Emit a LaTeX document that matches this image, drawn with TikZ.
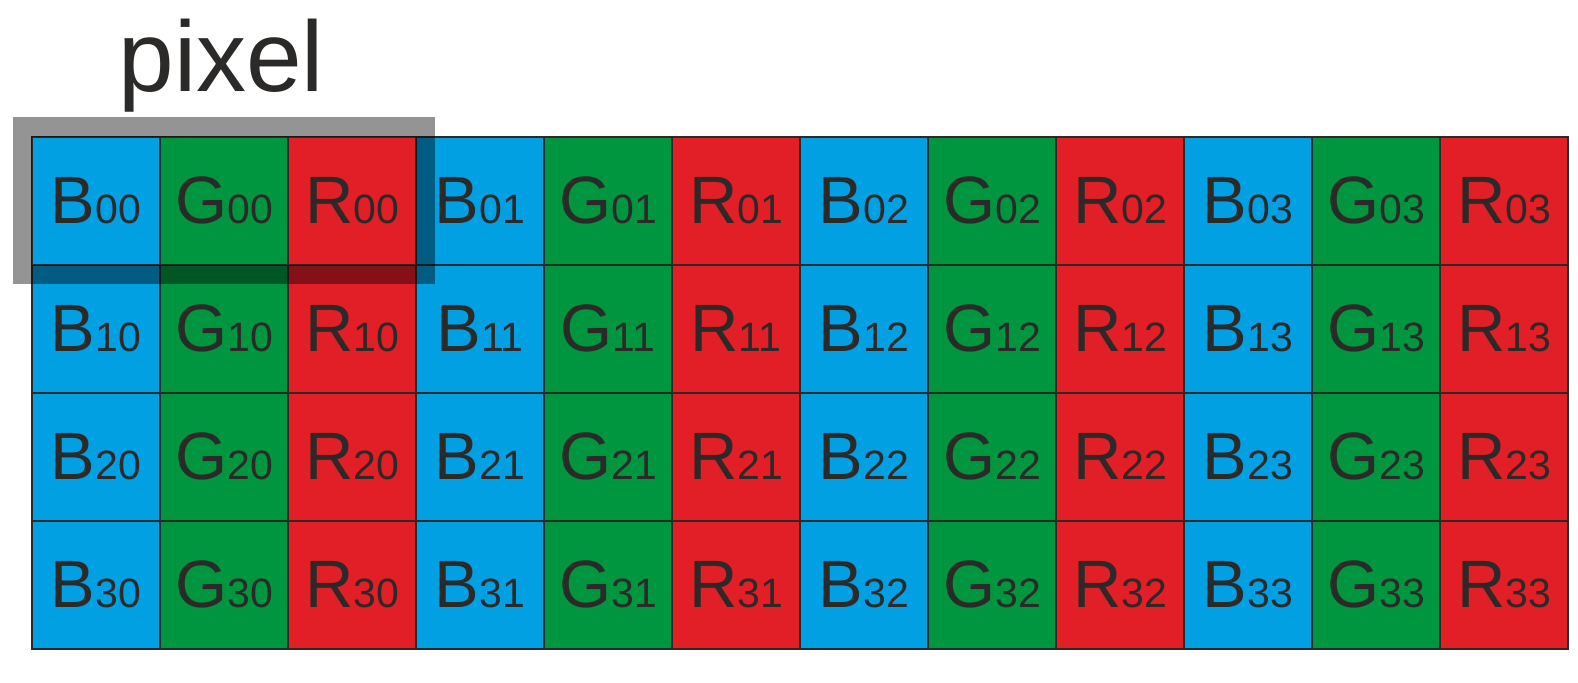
\documentclass[tikz,border=0pt]{standalone}
\usepackage{fontspec}
\setmainfont{Liberation Sans}
\usetikzlibrary{positioning}

\definecolor{subblue}{RGB}{0,160,227}
\definecolor{subgreen}{RGB}{0,150,64}
\definecolor{subred}{RGB}{226,30,38}
\definecolor{inkgray}{RGB}{43,42,41}

% letter with its index set small on the same baseline
\newcommand{\sublabel}[2]{{\fontsize{33.5}{36}\selectfont #1}{\fontsize{20.5}{22}\selectfont #2}}

\begin{document}
\begin{tikzpicture}[
  cell/.style={draw=inkgray, line width=1pt, minimum size=64pt, inner sep=0pt,
               outer sep=0pt, text=inkgray},
  pixframe/.style={draw=black, draw opacity=0.42, line width=9.65pt, line join=miter},
  lab/.style={anchor=base west, inner sep=0pt, text=inkgray,
              font=\fontsize{50}{60}\selectfont}
]
\useasboundingbox (0,0) rectangle (789pt,-341.5pt);
\foreach \r in {0,...,3}{
  \foreach \c in {0,...,11}{
    \pgfmathtruncatemacro{\k}{mod(\c,3)}
    \pgfmathtruncatemacro{\j}{div(\c,3)}
    \ifcase\k \def\col{subblue}\def\ch{B}\or \def\col{subgreen}\def\ch{G}\or \def\col{subred}\def\ch{R}\fi
    \node[cell, fill=\col] (c-\r-\c) at ({48pt+64pt*\c},{-100.35pt-64pt*\r}) {\sublabel{\ch}{\r\j}};
  }
}
% one pixel = three subpixels
\draw[pixframe] ([shift={(-4.825pt,4.825pt)}]c-0-0.north west) rectangle ([shift={(4.825pt,-4.825pt)}]c-0-2.south east);
\node[lab] (pixlabel) at (59pt,-45.85pt) {pixel};
\end{tikzpicture}
\end{document}
